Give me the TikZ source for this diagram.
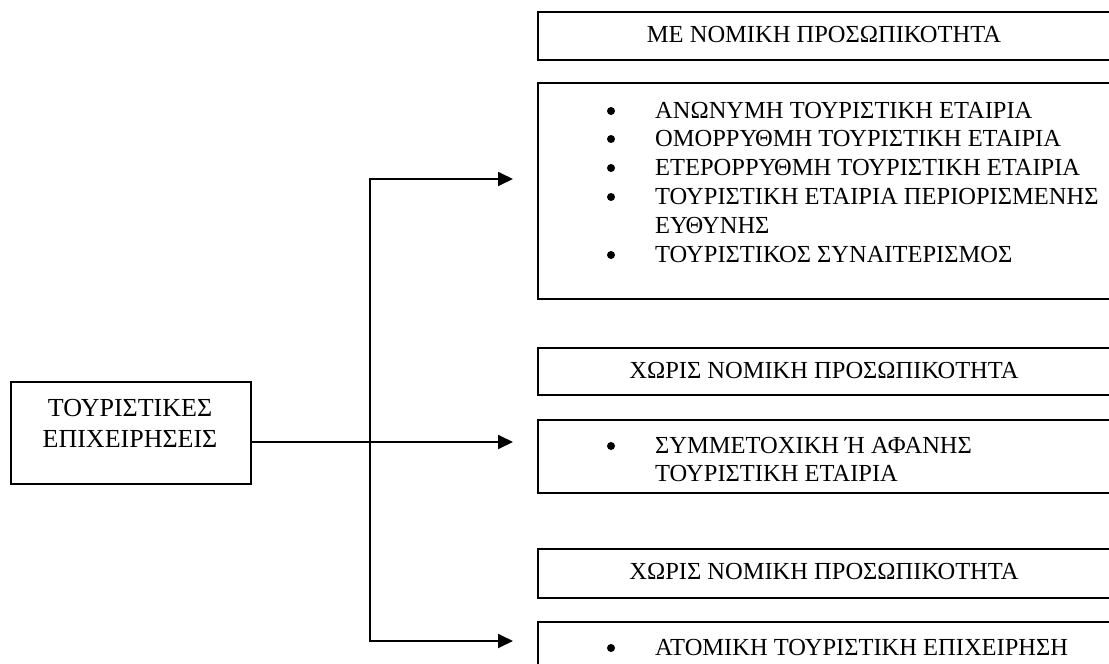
\documentclass[tikz,border=0pt]{standalone}
\usepackage{fontspec}
\setmainfont{Liberation Serif}
\usetikzlibrary{arrows.meta}
\tikzset{
  box/.style={draw, line width=1.8pt, anchor=north west, inner sep=0pt, minimum width=590pt},
  txt/.style={font=\fontsize{24.5}{28.8}\selectfont, inner sep=0pt},
  dot/.style={circle, fill, inner sep=0pt, minimum size=8pt},
  conn/.style={line width=1.8pt},
  head/.tip={Triangle[length=15pt,width=14pt]}
}

\begin{document}
\begin{tikzpicture}[x=1pt,y=-1pt]
\clip (0,0) rectangle (1109,664);
% left box
\node[box, minimum width=240pt, minimum height=102pt] (firms) at (10,381) {};
\node[inner sep=0pt, font=\fontsize{26}{31}\selectfont, align=center] (firmsT) at (130,423) {ΤΟΥΡΙΣΤΙΚΕΣ\\ΕΠΙΧΕΙΡΗΣΕΙΣ};
% first group
\node[box, minimum height=48pt] (legal) at (537,11) {};
\node[txt] (legalT) at (824,35) {ΜΕ ΝΟΜΙΚΗ ΠΡΟΣΩΠΙΚΟΤΗΤΑ};
\node[box, minimum height=216pt] (legalL) at (537,82) {};
\foreach \yy/\lbl in {111/ΑΝΩΝΥΜΗ ΤΟΥΡΙΣΤΙΚΗ ΕΤΑΙΡΙΑ,
    139/ΟΜΟΡΡΥΘΜΗ ΤΟΥΡΙΣΤΙΚΗ ΕΤΑΙΡΙΑ,
    168/ΕΤΕΡΟΡΡΥΘΜΗ ΤΟΥΡΙΣΤΙΚΗ ΕΤΑΙΡΙΑ,
    197/ΤΟΥΡΙΣΤΙΚΗ ΕΤΑΙΡΙΑ ΠΕΡΙΟΡΙΣΜΕΝΗΣ,
    255/ΤΟΥΡΙΣΤΙΚΟΣ ΣΥΝΑΙΤΕΡΙΣΜΟΣ}{
  \node[dot] (b\yy) at (611,\yy) {};
  \node[txt, anchor=west] (it\yy) at (655,\yy) {\lbl};
}
\node[txt, anchor=west] (it226) at (655,226) {ΕΥΘΥΝΗΣ};
% second group
\node[box, minimum height=47pt] (nolegA) at (537,347) {};
\node[txt] (nolegAT) at (824,371) {ΧΩΡΙΣ ΝΟΜΙΚΗ ΠΡΟΣΩΠΙΚΟΤΗΤΑ};
\node[box, minimum height=73pt] (nolegAL) at (537,419) {};
\node[dot] (b446) at (611,446) {};
\node[txt, anchor=west] (it446) at (655,446) {ΣΥΜΜΕΤΟΧΙΚΗ Ή ΑΦΑΝΗΣ};
\node[txt, anchor=west] (it474) at (655,474) {ΤΟΥΡΙΣΤΙΚΗ ΕΤΑΙΡΙΑ};
% third group
\node[box, minimum height=49pt] (nolegB) at (537,548) {};
\node[txt] (nolegBT) at (824,572) {ΧΩΡΙΣ ΝΟΜΙΚΗ ΠΡΟΣΩΠΙΚΟΤΗΤΑ};
\node[box, minimum height=80pt] (nolegBL) at (537,621) {};
\node[dot] (b648) at (611,648) {};
\node[txt, anchor=west] (it648) at (655,648) {ΑΤΟΜΙΚΗ ΤΟΥΡΙΣΤΙΚΗ ΕΠΙΧΕΙΡΗΣΗ};
% connectors
\coordinate (jTop) at (370,179);
\coordinate (jBot) at (370,641);
\coordinate (tipTop) at (513,179);
\coordinate (tipMid) at (513,442);
\coordinate (tipBot) at (513,641);
\draw[conn, {head}-{head}] (tipTop) -- (jTop) -- (jBot) -- (tipBot);
\draw[conn, -{head}] (firms.east |- tipMid) -- (tipMid);
\end{tikzpicture}
\end{document}
